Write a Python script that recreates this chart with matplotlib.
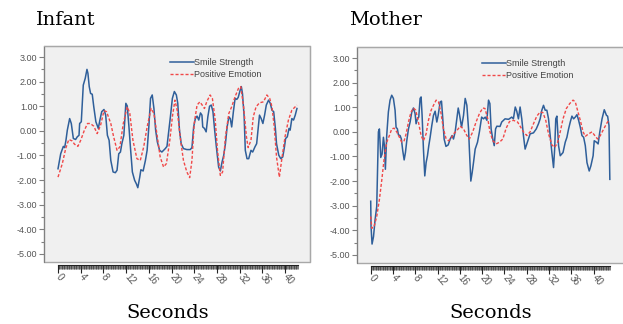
import numpy as np
import matplotlib
matplotlib.use('Agg')
import matplotlib.pyplot as plt
from matplotlib.patches import Rectangle
from matplotlib.ticker import FixedLocator, FormatStrFormatter

plt.rcParams['font.family'] = 'Liberation Sans'
plt.rcParams['axes.unicode_minus'] = False

# Infant panel: time (s) and values
inf_smile_t = [0, 0.47, 0.94, 1.17, 1.4, 1.64, 2.05, 2.34, 2.7, 3.1, 3.4, 3.7, 3.81, 4.1, 4.45,
               4.8, 5.1, 5.27, 5.5, 5.74, 6.03, 6.3, 6.67, 7.1, 7.38, 7.7, 8.1, 8.4, 8.7, 9.0,
               9.3, 9.7, 10.1, 10.4, 10.7, 11.0, 11.25, 11.6, 11.95, 12.2, 12.5, 12.8, 13.1,
               13.5, 13.8, 14.06, 14.4, 14.6, 15.0, 15.4, 15.7, 16.0, 16.3, 16.6, 16.9, 17.2,
               17.5, 17.9, 18.3, 18.9, 19.2, 19.5, 19.8, 20.15, 20.5, 20.85, 21.1, 21.4, 21.7,
               22.1, 22.7, 23.3, 23.6, 23.9, 24.2, 24.5, 24.8, 25.1, 25.36, 25.5, 25.8, 26.1,
               26.4, 26.7, 27.0, 27.3, 27.6, 27.9, 28.3, 28.6, 28.9, 29.2, 29.5, 29.8, 30.1,
               30.35, 30.6, 30.9, 31.2, 31.5, 31.75, 32.1, 32.3, 32.5, 32.8, 33.0, 33.3, 33.6,
               34.0, 34.3, 34.7, 35.0, 35.3, 35.5, 35.8, 36.1, 36.4, 36.7, 37.1, 37.4, 37.7,
               38.0, 38.3, 38.5, 38.9, 39.25, 39.6, 39.9, 40.1, 40.4, 40.7, 40.9, 41.2, 41.5,
               41.8, 42.1]
inf_smile_v = [-1.54, -0.93, -0.63, -0.68, -0.38, 0.03, 0.5, 0.3, -0.31, -0.35, -0.24, -0.18,
               0.3, 0.37, 1.86, 2.14, 2.5, 2.34, 1.8, 1.52, 1.49, 0.98, 0.37, 0.1, 0.44, 0.78,
               0.87, 0.64, -0.18, -0.38, -1.2, -1.67, -1.7, -1.6, -0.93, -0.86, -0.52, -0.18,
               1.12, 1.01, 0.16, -0.79, -1.67, -2.01, -2.15, -2.31, -1.88, -1.58, -1.63, -1.2,
               -0.79, 0.16, 1.32, 1.46, 0.91, 0.03, -0.45, -0.79, -0.86, -0.72, -0.63, -0.04,
               0.57, 1.32, 1.6, 1.46, 1.12, 0.03, -0.52, -0.72, -0.76, -0.76, -0.68, 0.16, 0.5,
               0.6, 0.44, 0.73, 0.64, 0.16, 0.1, -0.04, 0.57, 1.0, 1.05, 0.78, 0.03, -0.65,
               -1.47, -1.63, -1.27, -0.99, -0.52, 0.16, 0.57, 0.5, 0.16, 0.78, 1.32, 1.28, 1.36,
               1.66, 1.8, 1.52, 0.57, -0.79, -1.13, -1.13, -0.79, -0.86, -0.65, -0.52, 0.16,
               0.64, 0.5, 0.3, 0.64, 1.05, 1.25, 1.12, 0.84, 0.78, 0.1, -0.52, -0.99, -1.13,
               -1.06, -0.65, -0.31, -0.24, 0.1, 0.03, 0.5, 0.44, 0.64, 0.91]
inf_emotion_t = [0, 0.76, 1.35, 1.9, 2.5, 2.9, 3.5, 4.0, 4.6, 5.2, 5.7, 6.3, 6.9, 7.5, 8.1,
                 8.55, 9.3, 9.8, 10.4, 10.9, 11.5, 12.2, 12.65, 13.2, 13.9, 14.5, 15.1, 15.7,
                 16.4, 16.9, 17.5, 18.0, 18.6, 19.1, 19.7, 20.15, 20.6, 21.0, 21.6, 22.1,
                 22.7, 23.2, 23.6, 24.0, 24.5, 25.0, 25.4, 25.8, 26.2, 26.8, 27.2, 27.7, 28.1,
                 28.6, 29.0, 29.5, 30.1, 30.6, 31.2, 31.8, 32.2, 32.7, 33.2, 33.5, 34.0, 34.4,
                 34.9, 35.5, 36.2, 36.8, 37.3, 37.7, 38.1, 38.5, 39.0, 39.4, 40.0, 40.6, 41.2,
                 41.8, 42.1]
inf_emotion_v = [-1.88, -1.33, -0.72, -0.35, -0.41, -0.54, -0.63, -0.38, 0.0, 0.3, 0.3, 0.19,
                 -0.11, 0.23, 0.82, 0.78, 0.3, -0.24, -0.79, -0.65, 0.3, 0.98, 0.71, -0.38,
                 -1.13, -1.2, -0.65, 0.16, 0.91, 0.71, -0.24, -1.06, -1.47, -1.33, -0.38, 0.57,
                 1.25, 0.84, -0.38, -1.2, -1.67, -1.9, -1.2, 0.3, 1.05, 1.18, 1.05, 0.91, 1.18,
                 1.46, 1.32, 0.44, -0.79, -1.81, -1.67, -0.24, 0.71, 0.98, 1.39, 1.73, 1.8,
                 0.98, -0.24, -0.68, -0.38, 0.57, 0.98, 1.14, 1.18, 1.46, 1.32, 0.98, 0.16,
                 -1.06, -1.88, -1.2, -0.24, 0.44, 0.84, 0.98, 1.05]

# Mother panel
mom_smile_t = [0, 0.06, 0.24, 0.5, 0.78, 1.08, 1.38, 1.56, 1.8, 2.04, 2.28, 2.46, 2.63, 2.87,
               3.17, 3.47, 3.77, 4.07, 4.37, 4.55, 4.79, 4.97, 5.27, 5.5, 5.75, 6.0, 6.23,
               6.47, 6.77, 7.07, 7.37, 7.66, 7.96, 8.14, 8.38, 8.62, 8.86, 9.04, 9.22, 9.46,
               9.7, 9.94, 10.18, 10.42, 10.66, 10.96, 11.26, 11.56, 11.86, 12.1, 12.46, 12.7,
               12.93, 13.17, 13.5, 13.9, 14.25, 14.6, 14.85, 15.15, 15.45, 15.7, 15.9, 16.3,
               16.65, 16.95, 17.25, 17.55, 17.7, 17.96, 18.2, 18.44, 18.74, 19.16, 19.5, 19.9,
               20.24, 20.54, 20.84, 21.14, 21.38, 21.6, 21.9, 22.16, 22.4, 22.63, 23.2, 23.5,
               24.1, 24.73, 25.3, 25.6, 25.93, 26.2, 26.5, 26.8, 27.1, 27.4, 27.7, 28.0, 28.3,
               28.6, 29.2, 29.7, 30.1, 30.4, 30.7, 31.0, 31.3, 31.6, 31.9, 32.2, 32.5, 32.8,
               33.0, 33.2, 33.4, 33.7, 34.0, 34.5, 34.9, 35.2, 35.5, 35.8, 36.1, 36.4, 36.7,
               37.0, 37.3, 37.6, 37.9, 38.2, 38.5, 38.8, 39.2, 39.5, 39.9, 40.1, 40.5, 40.8,
               41.1, 41.5, 41.9, 42.3, 42.5, 42.75, 42.9]
mom_smile_v = [-2.82, -3.85, -4.56, -4.26, -3.58, -3.03, 0.0, 0.12, -1.04, -0.9, -0.22, -0.56,
               -1.52, -0.15, 0.81, 1.29, 1.49, 1.36, 0.88, 0.19, 0.12, -0.12, -0.15, -0.29,
               -0.77, -1.14, -0.84, -0.36, 0.12, 0.4, 0.81, 0.97, 0.74, 0.33, 0.53, 0.6, 1.36,
               1.42, 0.67, -0.7, -1.79, -1.25, -0.97, -0.56, -0.22, 0.26, 0.67, 0.84, 0.4, 0.67,
               1.22, 1.25, 0.53, -0.29, -0.59, -0.53, -0.29, -0.15, -0.29, 0.0, 0.53, 0.97,
               0.74, 0.19, 0.67, 1.36, 1.08, 0.12, -0.7, -2.0, -1.66, -1.25, -0.7, -0.42, 0.0,
               0.6, 0.53, 0.6, 0.47, 1.29, 1.15, 0.12, -0.29, -0.56, 0.12, 0.23, 0.22, 0.4,
               0.53, 0.51, 0.6, 0.53, 1.01, 0.84, 0.53, 1.01, 0.53, -0.15, -0.7, -0.49, -0.29,
               -0.08, -0.04, 0.12, 0.33, 0.53, 0.88, 1.08, 0.88, 0.88, 0.53, -0.15, -0.84,
               -1.45, -0.7, 0.53, 0.64, -0.56, -0.97, -0.84, -0.42, -0.22, 0.12, 0.4, 0.64,
               0.53, 0.6, 0.7, 0.47, 0.19, -0.15, -0.22, -0.56, -1.25, -1.59, -1.38, -0.97,
               -0.36, -0.42, -0.49, 0.0, 0.53, 0.9, 0.67, 0.64, 0.26, -1.93]
mom_emotion_t = [0, 0.2, 0.6, 1.08, 1.56, 2.0, 2.4, 2.87, 3.35, 3.77, 4.2, 4.67, 5.15, 5.57,
                 6.0, 6.35, 6.77, 7.2, 7.66, 8.08, 8.56, 9.04, 9.46, 9.94, 10.36, 10.84,
                 11.26, 11.74, 12.16, 12.57, 13.05, 13.5, 13.95, 14.37, 14.85, 15.45, 16.05,
                 16.65, 17.25, 17.7, 18.3, 18.9, 19.5, 20.1, 20.5, 21.0, 21.4, 21.9, 22.5,
                 23.1, 23.7, 24.3, 24.9, 25.6, 26.35, 26.8, 27.4, 28.0, 28.6, 29.2, 29.8,
                 30.4, 30.9, 31.4, 31.9, 32.5, 33.0, 33.5, 34.0, 34.5, 35.1, 35.7, 36.3,
                 36.7, 37.1, 37.6, 38.1, 38.5, 39.1, 39.7, 40.2, 40.7, 41.2, 41.8, 42.4, 42.75]
mom_emotion_v = [-3.44, -3.92, -3.85, -3.44, -2.75, -1.93, -1.11, -0.42, -0.15, 0.12, 0.15,
                 0.0, -0.22, -0.42, -0.36, -0.08, 0.4, 0.78, 0.97, 0.88, 0.4, -0.15, -0.36,
                 -0.08, 0.47, 0.88, 1.08, 1.29, 1.22, 0.81, 0.12, -0.26, -0.36, -0.29, -0.08,
                 0.05, 0.23, 0.12, -0.15, -0.29, 0.0, 0.4, 0.74, 0.97, 0.95, 0.53, 0.0, -0.36,
                 -0.49, -0.42, -0.29, 0.15, 0.42, 0.47, 0.4, 0.23, 0.0, -0.15, 0.0, 0.33, 0.64,
                 0.81, 0.78, 0.47, -0.08, -0.53, -0.63, -0.45, 0.0, 0.53, 0.95, 1.15, 1.29,
                 1.22, 0.88, 0.47, 0.0, -0.18, -0.08, 0.0, -0.15, -0.29, -0.15, 0.12, 0.37, 0.47]

y_ticks = [3, 2, 1, 0, -1, -2, -3, -4, -5]
x_ticks = [0, 4, 8, 12, 16, 20, 24, 28, 32, 36, 40]

blue = '#2f5f9a'
red = '#f04848'
W, H = 623, 324

fig = plt.figure(figsize=(6.23, 3.24), dpi=100)


def panel(px, title, smile_t, smile_v, emo_t, emo_v, xlim, t_end, leg_x):
    # px = (left, top, right, bottom) of the gray frame in pixels
    l, t, r, b = px
    ax = fig.add_axes([l / W, 1 - b / H, (r - l) / W, (b - t) / H])
    ax.set_facecolor('#f0f0f0')
    ax.plot(smile_t, smile_v, color=blue, lw=1.1, label='Smile Strength')
    ax.plot(emo_t, emo_v, color=red, lw=1.0, dashes=(2.2, 1.4), label='Positive Emotion')
    ax.set_xlim(*xlim)
    ax.set_ylim(-5.33, 3.45)

    for s in ['top', 'right', 'left']:
        ax.spines[s].set_color('#a8a8a8')
    ax.spines['left'].set_color('#808080')
    ax.add_patch(Rectangle((0, 0), 1, 1, transform=ax.transAxes, fill=False,
                           edgecolor='#a8a8a8', lw=1.0, clip_on=False, zorder=0))
    ax.spines['bottom'].set_position(('outward', 2))
    ax.spines['bottom'].set_bounds(0, t_end)
    ax.spines['bottom'].set_color('#222222')

    ax.yaxis.set_major_locator(FixedLocator(y_ticks))
    ax.yaxis.set_minor_locator(FixedLocator(np.arange(-5, 3.01, 0.5)))
    ax.yaxis.set_major_formatter(FormatStrFormatter('%.2f'))
    ax.tick_params(axis='y', which='major', length=3.6, width=0.8, color='#808080',
                   labelsize=6.5, labelcolor='#555555', pad=1.2)
    ax.tick_params(axis='y', which='minor', length=2.2, width=0.8, color='#808080')

    ax.xaxis.set_major_locator(FixedLocator(x_ticks))
    ax.xaxis.set_minor_locator(FixedLocator(np.arange(0, t_end, 0.125)))
    ax.tick_params(axis='x', which='major', length=6, width=0.8, color='#222222',
                   labelsize=7, labelcolor='#555555', pad=1.5)
    ax.tick_params(axis='x', which='minor', length=3.2, width=0.45, color='#333333')
    for lab in ax.get_xticklabels():
        lab.set_rotation(-50)
        lab.set_ha('left')
        lab.set_va('center')
        lab.set_rotation_mode('anchor')

    leg = ax.legend(loc='upper left', bbox_to_anchor=(leg_x, 0.945), frameon=False,
                    fontsize=6.5, handlelength=2.6, handletextpad=0.0, borderpad=0,
                    borderaxespad=0, labelspacing=0.35)
    for txt in leg.get_texts():
        txt.set_color('#444444')

    fig.text((l - 8) / W, 1 - 20 / H, title, family='DejaVu Serif', fontsize=14,
             ha='left', va='center')
    return ax


ax1 = panel((44, 46, 310, 262), 'Infant', inf_smile_t, inf_smile_v,
            inf_emotion_t, inf_emotion_v, (-2.47, 44.4), 42.3, 0.474)
ax2 = panel((357, 47, 626, 263), 'Mother', mom_smile_t, mom_smile_v,
            mom_emotion_t, mom_emotion_v, (-2.46, 45.8), 43.0, 0.465)

fig.text(168 / W, 1 - 313 / H, 'Seconds', family='DejaVu Serif', fontsize=14,
         ha='center', va='center')
fig.text(491 / W, 1 - 313 / H, 'Seconds', family='DejaVu Serif', fontsize=14,
         ha='center', va='center')

fig.savefig('out.png', dpi=100)
